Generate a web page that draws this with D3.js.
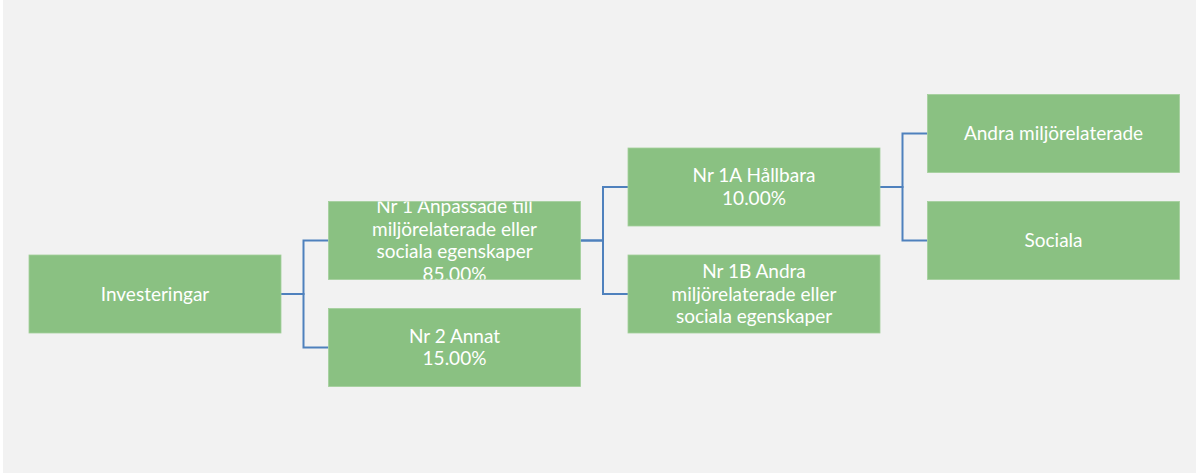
<!DOCTYPE html>
<html>
<head>
<meta charset="utf-8">
<script src="https://cdn.jsdelivr.net/npm/d3@7.9.0/dist/d3.min.js"></script>
<style>
  html, body { margin: 0; padding: 0; background: #fff; }
  svg { display: block; }
</style>
</head>
<body>
<svg id="chart" width="1196" height="473"></svg>
<script>
// node labels (lines), parent of each node and the share shown under the label
const names = ['Investeringar', 'Nr 1', 'Nr 2', 'Nr 1A', 'Nr 1B', 'Andra', 'Sociala'];
const parents = [null, 'Investeringar', 'Investeringar', 'Nr 1', 'Nr 1', 'Nr 1A', 'Nr 1A'];
const labels = [
    ['Investeringar'],
    ['Nr 1 Anpassade till', 'miljörelaterade eller', 'sociala egenskaper'],
    ['Nr 2 Annat'],
    ['Nr 1A Hållbara'],
    ['Nr 1B Andra', 'miljörelaterade eller', 'sociala egenskaper'],
    ['Andra miljörelaterade'],
    ['Sociala']
];
const shares = [null, '85.00%', '15.00%', '10.00%', null, null, null];

const boxW = 252, boxH = 78;
const rowStep = 107, colStep = 299.5;
const rootX = 29, rootCY = 294;
const lineH = 22.5;

const svg = d3.select('#chart');

// background panel
svg.append('rect')
    .attr('x', 3).attr('y', 0)
    .attr('width', 1193).attr('height', 473)
    .attr('fill', '#f2f2f2');

// Build hierarchy from the arrays
const rows = names.map((n, i) => ({ name: n, parent: parents[i], lines: labels[i], share: shares[i] }));
const root = d3.stratify()
    .id(d => d.name)
    .parentId(d => d.parent)(rows);

d3.tree()
    .nodeSize([rowStep, colStep])
    .separation(() => 1)(root);

const offY = rootCY - root.x;
const px = d => rootX + d.y;          // left edge of box
const py = d => offY + d.x;           // vertical centre of box

// elbow connectors
svg.append('g')
    .selectAll('path')
    .data(root.links())
    .join('path')
    .attr('fill', 'none')
    .attr('stroke', '#4f81bd')
    .attr('stroke-width', 2)
    .attr('d', l => {
        const x0 = px(l.source) + boxW;
        const x1 = px(l.target);
        const mid = x0 + 22.5;
        return `M${x0},${py(l.source)}H${mid}V${py(l.target)}H${x1}`;
    });

const defs = svg.append('defs');

const nodes = svg.append('g')
    .selectAll('g')
    .data(root.descendants())
    .join('g')
    .attr('transform', d => `translate(${px(d)},${py(d) - boxH / 2})`);

nodes.each(function (d, i) {
    defs.append('clipPath')
        .attr('id', 'clip' + i)
        .append('rect')
        .attr('width', boxW).attr('height', boxH);
});

nodes.append('rect')
    .attr('width', boxW)
    .attr('height', boxH)
    .attr('fill', '#8ac182')
    .attr('stroke', '#a3cf9b')
    .attr('stroke-width', 0.8);

nodes.append('text')
    .attr('clip-path', (d, i) => `url(#clip${i})`)
    .attr('text-anchor', 'middle')
    .attr('fill', '#ffffff')
    .style('font-family', 'Lato, "Open Sans", sans-serif')
    .style('font-size', '19px')
    .each(function (d) {
        const lines = d.data.lines.slice();
        if (d.data.share) lines.push(d.data.share);
        const start = boxH / 2 - (lines.length - 1) * lineH / 2;
        d3.select(this).selectAll('tspan')
            .data(lines)
            .join('tspan')
            .attr('x', boxW / 2)
            .attr('y', (t, k) => start + k * lineH)
            .attr('dy', '0.35em')
            .text(t => t);
    });
</script>
</body>
</html>
